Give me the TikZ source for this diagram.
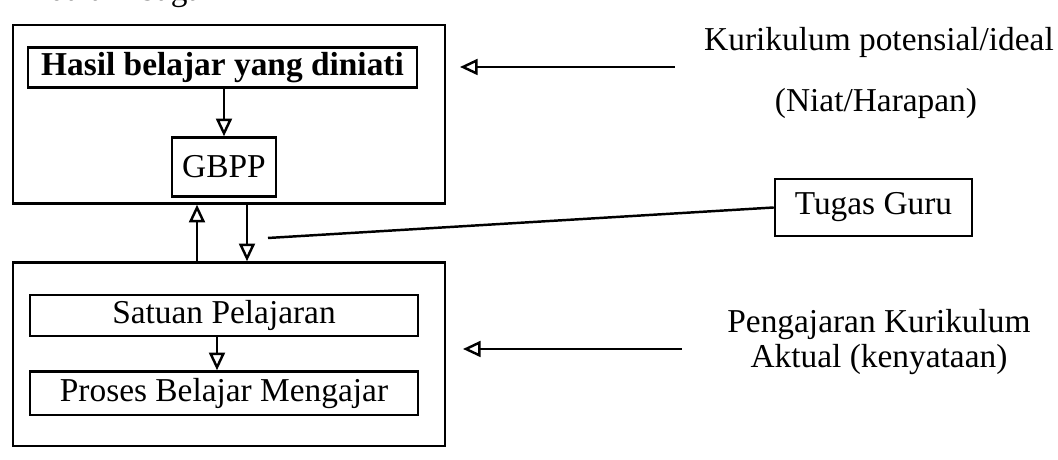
\documentclass[tikz,border=0pt]{standalone}
\usepackage{fontspec}
\setmainfont{Liberation Serif}
\usetikzlibrary{arrows.meta}

\begin{document}
\begin{tikzpicture}[font=\fontsize{9.5pt}{9.7pt}\selectfont,
  kotak/.style={draw, line width=0.7pt, inner sep=0pt},
  panah/.style={line width=0.7pt, -{Triangle[open, length=5pt, width=4.5pt]}}]
\useasboundingbox (0,0) rectangle (10.58,-4.60);
\node[anchor=base west] (judul) at (0.37,-0.01) {dalam bagan};

\node[kotak, minimum width=4.32cm, minimum height=1.785cm] (atas) at (2.29,-1.1425) {};
\node[kotak, minimum width=3.89cm, minimum height=0.40cm, font=\fontsize{9.5pt}{9.7pt}\selectfont\bfseries] (hasil) at (2.225,-0.675) {Hasil belajar yang diniati};
\node[kotak, minimum width=1.04cm, minimum height=0.59cm] (gbpp) at (2.24,-1.67) {GBPP};
\draw[panah] (hasil.south -| gbpp.north) -- (gbpp.north);

\node[kotak, minimum width=4.32cm, minimum height=1.835cm] (bawah) at (2.29,-3.5425) {};
\node[kotak, minimum width=3.88cm, minimum height=0.41cm] (satuan) at (2.24,-3.155) {Satuan Pelajaran};
\node[kotak, minimum width=3.88cm, minimum height=0.435cm] (proses) at (2.24,-3.9325) {Proses Belajar Mengajar};
\draw[panah] ([xshift=-0.07cm]satuan.south) -- ([xshift=-0.07cm]proses.north);

\draw[panah] ([xshift=-0.32cm]bawah.north) -- ([xshift=-0.32cm]atas.south);
\draw[panah] ([xshift=0.18cm]atas.south) -- ([xshift=0.18cm]bawah.north);

\node[] (kurikulum) at (8.79,-0.42) {Kurikulum potensial/ideal};
\node[] (niat) at (8.76,-1.035) {(Niat/Harapan)};
\coordinate (kurA) at (6.75,-0.67);
\coordinate (kurB) at (4.60,-0.67);
\draw[panah] (kurA) -- (kurB);

\node[kotak, minimum width=1.97cm, minimum height=0.57cm] (tugas) at (8.735,-2.075) {Tugas Guru};
\coordinate (tg) at (2.68,-2.38);
\draw[line width=0.7pt] (tugas.west) -- (tg);

\node[align=center] (pengajaran) at (8.79,-3.42) {Pengajaran Kurikulum\\Aktual (kenyataan)};
\coordinate (pgA) at (6.82,-3.49);
\coordinate (pgB) at (4.63,-3.49);
\draw[panah] (pgA) -- (pgB);
\end{tikzpicture}
\end{document}
